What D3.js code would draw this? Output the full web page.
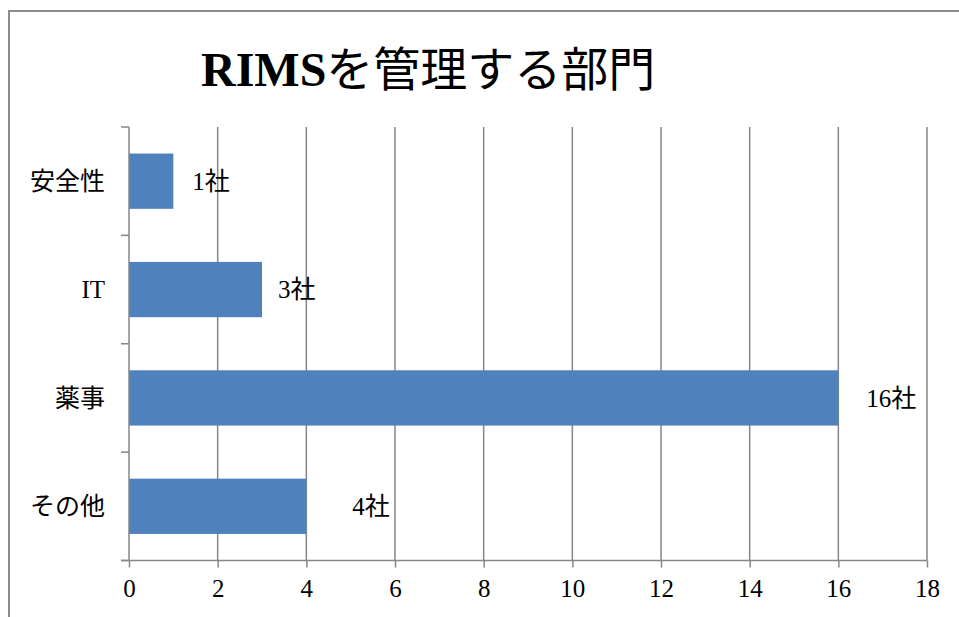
<!DOCTYPE html>
<html>
<head>
<meta charset="utf-8">
<script src="https://cdn.jsdelivr.net/npm/d3@7"></script>
<style>
	body { margin: 0; background: #fff; }
	svg text { font-family: "Liberation Serif", "Noto Sans CJK JP", serif; fill: #000; }
</style>
</head>
<body>
<svg id="chart" width="959" height="617"></svg>
<script>
// data
const categories = ['安全性', 'IT', '薬事', 'その他'];
const counts = [1, 3, 16, 4];
const countLabels = ['1社', '3社', '16社', '4社'];
const xTicks = [0, 2, 4, 6, 8, 10, 12, 14, 16, 18];
// data labels were nudged by hand in the original, px from bar end
const labelOffsets = [19, 16, 28, 46];

const titleLatin = 'RIMS';
const titleRest = 'を管理する部門';
const gridColor = '#868686';
const barColor = '#4f81bd';

const svg = d3.select('#chart');

// outer frame (left and top edges only visible)
svg.append('path')
	.attr('d', 'M9,617 L9,11 L959,11')
	.attr('fill', 'none')
	.attr('stroke', '#8c8c8c')
	.attr('stroke-width', 2);

let title = svg.append('text')
	.attr('x', 201)
	.attr('y', 86);

title.append('tspan')
	.style('font-size', '48px')
	.style('font-weight', 'bold')
	.text(titleLatin);

title.append('tspan')
	.style('font-size', '47px')
	.text(titleRest);

const x = d3.scaleLinear()
	.domain([0, 18])
	.range([129, 927]);

const plotTop = 127, plotBottom = 560.5;

const y = d3.scaleBand()
	.domain(categories)
	.range([plotTop, plotBottom])
	.paddingInner(0.49)
	.paddingOuter(0.245);

// vertical gridlines
svg.append('g')
	.selectAll('line')
	.data(xTicks.slice(1))
	.join('line')
	.attr('x1', d => x(d))
	.attr('x2', d => x(d))
	.attr('y1', plotTop)
	.attr('y2', plotBottom)
	.attr('stroke', gridColor)
	.attr('stroke-width', 1.5);

// bars
svg.append('g')
	.selectAll('rect')
	.data(categories)
	.join('rect')
	.attr('x', x(0))
	.attr('y', d => y(d))
	.attr('width', (d, i) => x(counts[i]) - x(0))
	.attr('height', y.bandwidth())
	.attr('fill', barColor);

// data labels
svg.append('g')
	.selectAll('text')
	.data(categories)
	.join('text')
	.attr('x', (d, i) => x(counts[i]) + labelOffsets[i])
	.attr('y', d => y(d) + y.bandwidth() / 2)
	.attr('dy', '0.35em')
	.style('font-size', '25px')
	.text((d, i) => countLabels[i]);

// x axis
const xAxis = svg.append('g')
	.attr('transform', 'translate(0,' + plotBottom + ')')
	.call(d3.axisBottom(x).tickValues(xTicks).tickSize(7).tickSizeOuter(0).tickPadding(12));

xAxis.select('.domain').remove();
xAxis.append('line')
	.attr('x1', 121)
	.attr('x2', x(18))
	.attr('stroke', gridColor)
	.attr('stroke-width', 1.5);
xAxis.selectAll('.tick line')
	.attr('stroke', gridColor)
	.attr('stroke-width', 1.5);
xAxis.selectAll('.tick text')
	.attr('fill', '#000')
	.style('font-size', '25px')
	.style('font-family', '"Liberation Serif", serif');

// y axis
const yAxis = svg.append('g')
	.attr('transform', 'translate(' + x(0) + ',0)');

yAxis.append('line')
	.attr('y1', plotTop)
	.attr('y2', plotBottom)
	.attr('stroke', gridColor)
	.attr('stroke-width', 1.5);

let boundaries = [plotTop].concat(categories.map(c => y(c) + y.bandwidth() + y.step() * y.paddingInner() / 2));

yAxis.selectAll('.ytick')
	.data(boundaries)
	.join('line')
	.attr('class', 'ytick')
	.attr('x1', -8)
	.attr('x2', 0)
	.attr('y1', d => d)
	.attr('y2', d => d)
	.attr('stroke', gridColor)
	.attr('stroke-width', 1.5);

yAxis.selectAll('.ylabel')
	.data(categories)
	.join('text')
	.attr('class', 'ylabel')
	.attr('x', -24)
	.attr('y', d => y(d) + y.bandwidth() / 2)
	.attr('dy', '0.35em')
	.attr('text-anchor', 'end')
	.style('font-size', '25px')
	.text(d => d);
</script>
</body>
</html>
